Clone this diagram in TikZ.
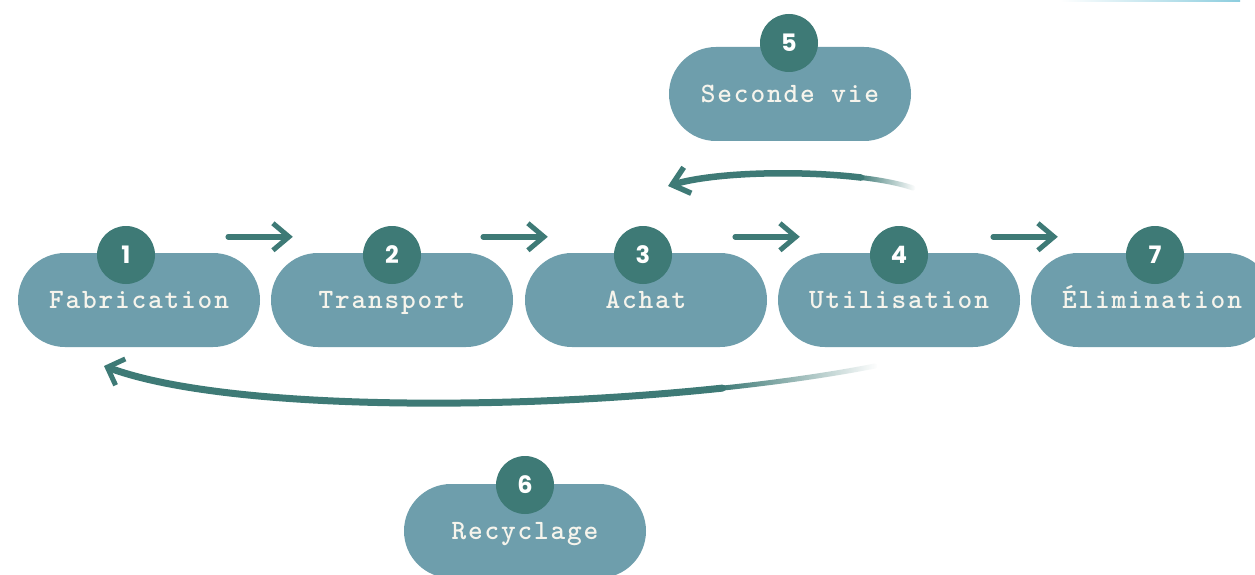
\documentclass[tikz,border=0pt]{standalone}
\usepackage{fontspec}
\usetikzlibrary{arrows.meta,fadings}
\newfontfamily\digitfont{Poppins}
\newfontfamily\stagefont{lmmonolt10-bold}[Extension=.otf, LetterSpace=6.5]
\definecolor{pillblue}{RGB}{110,158,172}
\definecolor{deepteal}{RGB}{62,122,118}
\definecolor{paper}{RGB}{246,244,236}
\definecolor{glow}{RGB}{140,205,222}
\begin{document}
\begin{tikzpicture}[x=1pt,y=-1pt,
  stage/.style={rectangle, rounded corners=47pt, fill=pillblue,
    minimum width=242pt, minimum height=94pt, inner sep=0pt,
    text height=17pt, text depth=0pt, text=paper,
    font=\stagefont\fontsize{28}{30}\selectfont},
  badge/.style={circle, fill=deepteal, minimum size=58pt, inner sep=0pt,
    text=white, font=\fontsize{24}{24}\selectfont\digitfont\bfseries},
  flow/.style={draw=deepteal, line width=5.5pt, line cap=round,
    -{Straight Barb[length=16pt,width=27pt,line width=5pt]}},
  loopshaft/.style={draw=deepteal, line width=6.5pt, line cap=round},
  looptail/.style={draw=deepteal, line width=5pt, line cap=round, path fading=east},
]
\useasboundingbox (0,0) rectangle (1255,575);
\fill[white] (0,0) rectangle (1255,575);

% thin accent along the top edge
\fill[left color=white, right color=glow] (1060,0) rectangle (1240,2);

% stages of the life cycle
\node[stage] (p1) at (139,300) {Fabrication};
\node[stage] (p2) at (392,300) {Transport};
\node[stage] (p3) at (646,300) {Achat};
\node[stage] (p4) at (899,300) {Utilisation};
\node[stage] (p7) at (1152,300) {Élimination};
\node[stage] (p5) at (790,94) {Seconde vie};
\node[stage] (p6) at (525,531) {Recyclage};

% numbered badges
\node[badge] (n1) at (126,255) {1};
\node[badge] (n2) at (392,255) {2};
\node[badge] (n3) at (643,255) {3};
\node[badge] (n4) at (899,255) {4};
\node[badge] (n7) at (1155,255) {7};
\node[badge] (n5) at (789,43) {5};
\node[badge] (n6) at (525,485) {6};

% forward steps
\draw[flow] ([xshift=-32pt,yshift=16pt]p1.north east) -- ([xshift=22pt,yshift=16pt]p2.north west);
\draw[flow] ([xshift=-30pt,yshift=16pt]p2.north east) -- ([xshift=23pt,yshift=16pt]p3.north west);
\draw[flow] ([xshift=-32pt,yshift=16pt]p3.north east) -- ([xshift=22pt,yshift=16pt]p4.north west);
\draw[flow] ([xshift=-27pt,yshift=16pt]p4.north east) -- ([xshift=27pt,yshift=16pt]p7.north west);

% loop back through second life
\coordinate (s5) at (913,188);
\coordinate (m5) at (861.1,177.55);
\coordinate (e5) at (668,186);
\draw[looptail] (s5) .. controls (899.75,183.5) and (881.7,180) .. (m5);
\draw[loopshaft, -{Straight Barb[length=16pt,width=27pt,line width=5.5pt]}]
  (m5) .. controls (799.4,170.2) and (715,172.25) .. (e5);

% loop back through recycling
\coordinate (s6) at (875,366);
\coordinate (m6) at (722.5,388.1);
\coordinate (e6) at (104,366);
\draw[looptail] (s6) .. controls (830,374.8) and (778,382.2) .. (m6);
\draw[loopshaft, line width=7pt, -{Straight Barb[length=14pt,width=28pt,line width=5pt]}]
  (m6) .. controls (500.4,411.5) and (222,409.6) .. (e6);
\end{tikzpicture}
\end{document}
